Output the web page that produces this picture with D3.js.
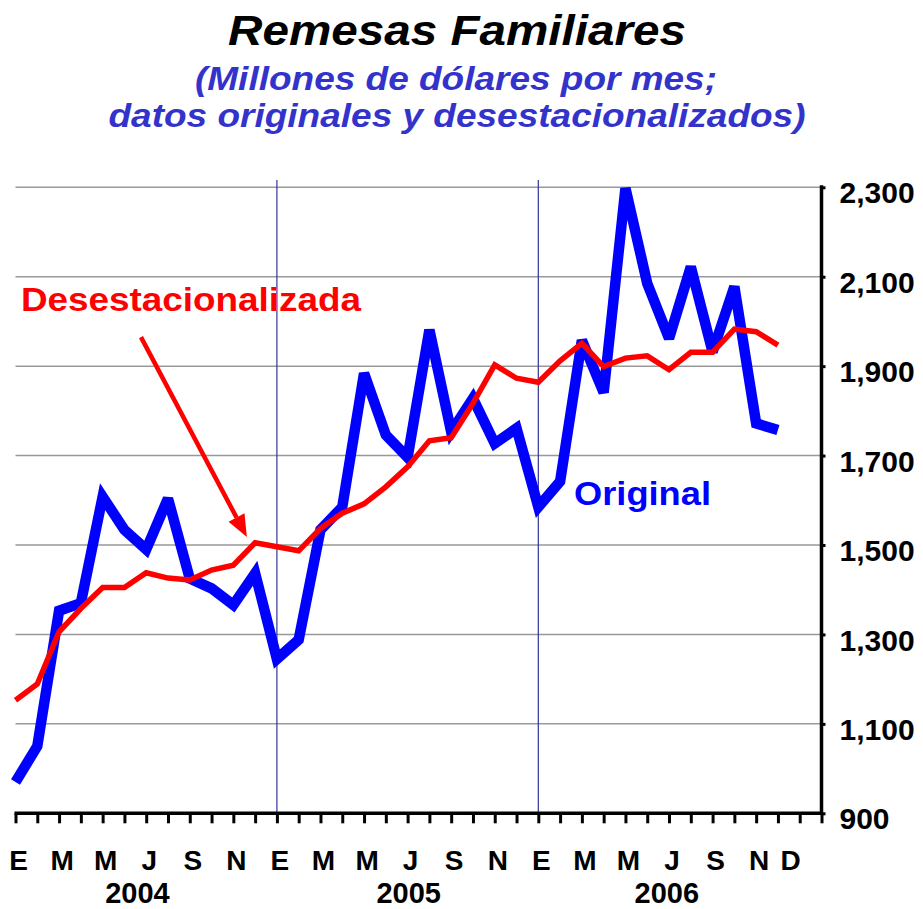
<!DOCTYPE html>
<html>
<head>
<meta charset="utf-8">
<script src="https://cdn.jsdelivr.net/npm/d3@7"></script>
<style>
  body { margin: 0; background: #fff; }
  svg { display: block; font-family: "Liberation Sans", Arial, sans-serif; font-weight: bold; }
</style>
</head>
<body>
<svg id="chart" width="923" height="909"></svg>
<script>
// Monthly data, Jan 2004 - Dec 2006 (millions of dollars)
const original = [970, 1050, 1353, 1370, 1608, 1534, 1490, 1604, 1425, 1403, 1366, 1437,
                  1245, 1288, 1534, 1585, 1884, 1746, 1696, 1981, 1753, 1828, 1727, 1761,
                  1585, 1642, 1958, 1841, 2298, 2085, 1962, 2122, 1932, 2078, 1772, 1757];
const desest = [1153, 1189, 1306, 1358, 1405, 1405, 1438, 1426, 1422, 1444, 1455, 1505,
                1496, 1487, 1537, 1571, 1592, 1630, 1675, 1733, 1740, 1817, 1903, 1873,
                1864, 1912, 1951, 1899, 1918, 1923, 1892, 1931, 1931, 1983, 1977, 1947];

const yTicks = [900, 1100, 1300, 1500, 1700, 1900, 2100, 2300];
const monthLabels = ['E', 'M', 'M', 'J', 'S', 'N', 'E', 'M', 'M', 'J', 'S', 'N', 'E', 'M', 'M', 'J', 'S', 'N', 'D'];
const monthIndex = [0, 2, 4, 6, 8, 10, 12, 14, 16, 18, 20, 22, 24, 26, 28, 30, 32, 34, 35.45];
const years = ['2004', '2005', '2006'];
const yearIndex = [5.6, 18.05, 29.9];
const yearStarts = [12, 24];

const svg = d3.select('#chart');

const x = d3.scaleLinear().domain([0, 37]).range([15.5, 821.5]);
const y = d3.scaleLinear().domain([900, 2300]).range([813.3, 187.3]);

// Titles
svg.append('text')
    .attr('x', 457).attr('y', 45)
    .attr('text-anchor', 'middle')
    .attr('font-size', 42).attr('font-style', 'italic')
    .attr('textLength', 458).attr('lengthAdjust', 'spacingAndGlyphs')
    .text('Remesas Familiares');

svg.append('text')
    .attr('x', 456).attr('y', 90)
    .attr('text-anchor', 'middle')
    .attr('font-size', 33).attr('font-style', 'italic').attr('fill', '#3333cc')
    .attr('textLength', 522).attr('lengthAdjust', 'spacingAndGlyphs')
    .text('(Millones de dólares por mes;');

svg.append('text')
    .attr('x', 457).attr('y', 127)
    .attr('text-anchor', 'middle')
    .attr('font-size', 33).attr('font-style', 'italic').attr('fill', '#3333cc')
    .attr('textLength', 697).attr('lengthAdjust', 'spacingAndGlyphs')
    .text('datos originales y desestacionalizados)');

// Gridlines
svg.append('g')
    .selectAll('line')
    .data(yTicks.filter(d => d > 900))
    .enter()
    .append('line')
    .attr('x1', x(0)).attr('x2', x(37))
    .attr('y1', d => y(d)).attr('y2', d => y(d))
    .attr('stroke', '#999')
    .attr('stroke-width', 1.5);

// Year separators
svg.append('g')
    .selectAll('line')
    .data(yearStarts)
    .enter()
    .append('line')
    .attr('x1', d => x(d)).attr('x2', d => x(d))
    .attr('y1', 180).attr('y2', y(900))
    .attr('stroke', '#333399')
    .attr('stroke-width', 1.2);

// Series lines
const line = d3.line()
    .x((d, i) => x(i))
    .y(d => y(d));

svg.append('path')
    .datum(original)
    .attr('fill', 'none')
    .attr('stroke', '#0000ff')
    .attr('stroke-width', 10.5)
    .attr('stroke-linejoin', 'miter')
    .attr('stroke-miterlimit', 3)
    .attr('d', line);

svg.append('path')
    .datum(desest)
    .attr('fill', 'none')
    .attr('stroke', '#ff0000')
    .attr('stroke-width', 5.5)
    .attr('stroke-linejoin', 'miter')
    .attr('d', line);

// Bottom axis
const xAxis = d3.axisBottom(x)
    .tickValues(d3.range(0, 38))
    .tickSize(10)
    .tickFormat('');

const gx = svg.append('g')
    .attr('transform', `translate(0,${y(900)})`)
    .call(xAxis);
gx.select('.domain').attr('stroke', '#000').attr('stroke-width', 3.5).attr('d', `M${x(0) - 1},0H${x(37) + 1}`);
gx.selectAll('.tick line').attr('stroke', '#000').attr('stroke-width', 3);

// Right axis
const yAxis = d3.axisRight(y)
    .tickValues(yTicks)
    .tickSize(4)
    .tickPadding(14)
    .tickFormat(d3.format(','));

const gy = svg.append('g')
    .attr('transform', `translate(${x(37)},0)`)
    .call(yAxis);
gy.select('.domain').attr('stroke', '#000').attr('stroke-width', 3.5).attr('d', `M0,${y(2300) - 2}V${y(900) + 1}`);
gy.selectAll('.tick line').attr('stroke', '#000').attr('stroke-width', 3);
gy.selectAll('.tick text')
    .attr('font-size', 30)
    .attr('font-family', '"Liberation Sans", Arial, sans-serif')
    .attr('font-weight', 'bold')
    .attr('fill', '#000')
    .attr('dy', '0.52em');

// Month labels
svg.append('g')
    .selectAll('text')
    .data(monthLabels)
    .enter()
    .append('text')
    .attr('x', (d, i) => x(monthIndex[i]) + 3)
    .attr('y', 870)
    .attr('text-anchor', 'middle')
    .attr('font-size', 28)
    .text(d => d);

// Year labels
svg.append('g')
    .selectAll('text')
    .data(years)
    .enter()
    .append('text')
    .attr('x', (d, i) => x(yearIndex[i]))
    .attr('y', 903)
    .attr('text-anchor', 'middle')
    .attr('font-size', 29)
    .text(d => d);

// Annotations
svg.append('text')
    .attr('x', 21).attr('y', 311)
    .attr('font-size', 34).attr('fill', '#ff0000')
    .attr('textLength', 340).attr('lengthAdjust', 'spacingAndGlyphs')
    .text('Desestacionalizada');

svg.append('text')
    .attr('x', 574).attr('y', 505)
    .attr('font-size', 34).attr('fill', '#0000ff')
    .attr('textLength', 137).attr('lengthAdjust', 'spacingAndGlyphs')
    .text('Original');

// Arrow from label to red series
const arrowFrom = [5.76, 1965];
const arrowTo = [10.62, 1518];
const ax0 = x(arrowFrom[0]), ay0 = y(arrowFrom[1]);
const ax1 = x(arrowTo[0]), ay1 = y(arrowTo[1]);
const ang = Math.atan2(ay1 - ay0, ax1 - ax0);
const headLen = 22, headW = 9;
const bx = ax1 - headLen * Math.cos(ang), by = ay1 - headLen * Math.sin(ang);

svg.append('line')
    .attr('x1', ax0).attr('y1', ay0)
    .attr('x2', bx).attr('y2', by)
    .attr('stroke', '#ff0000')
    .attr('stroke-width', 4.5);

svg.append('path')
    .attr('d', `M${ax1},${ay1}L${bx + headW * Math.sin(ang)},${by - headW * Math.cos(ang)}L${bx - headW * Math.sin(ang)},${by + headW * Math.cos(ang)}Z`)
    .attr('fill', '#ff0000');
</script>
</body>
</html>
